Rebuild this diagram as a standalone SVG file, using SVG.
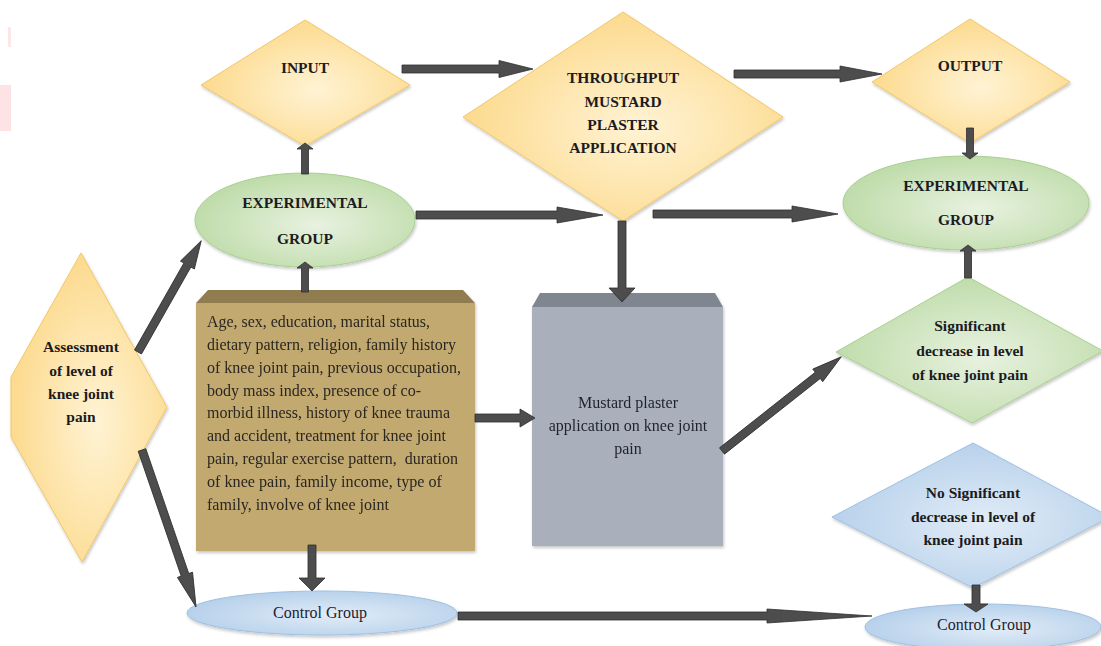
<svg xmlns="http://www.w3.org/2000/svg" width="1101" height="646" viewBox="0 0 1101 646">
<defs>
<radialGradient id="gY" cx="0.55" cy="0.55" r="0.6"><stop offset="0" stop-color="#fff3d4"/><stop offset="1" stop-color="#fcd888"/></radialGradient>
<radialGradient id="gG" cx="0.55" cy="0.55" r="0.6"><stop offset="0" stop-color="#e8f2e0"/><stop offset="1" stop-color="#bcdaa6"/></radialGradient>
<radialGradient id="gB" cx="0.55" cy="0.55" r="0.6"><stop offset="0" stop-color="#e1ecf7"/><stop offset="1" stop-color="#b4cfea"/></radialGradient>
<filter id="sh" x="-10%" y="-10%" width="120%" height="130%"><feDropShadow dx="1" dy="2" stdDeviation="1.5" flood-color="#000" flood-opacity="0.22"/></filter>
</defs>
<style>
.yd{fill:url(#gY);stroke:#f2c766;stroke-width:1;filter:url(#sh)}
.gn{fill:url(#gG);stroke:#a8cf90;stroke-width:1;filter:url(#sh)}
.bl{fill:url(#gB);stroke:#9dc0e3;stroke-width:1;filter:url(#sh)}
.lb{font-family:"Liberation Serif",serif;font-weight:bold;font-size:15.5px;fill:#1b1b22;text-anchor:middle}
.tx{font-family:"Liberation Serif",serif;font-size:16px;fill:#2a2622}
.tc{font-family:"Liberation Serif",serif;font-size:16px;fill:#1f2230;text-anchor:middle}
.ar path{fill:#4d4d4d;stroke:#2e2e2e;stroke-width:0.8}
</style>
<rect width="1101" height="646" fill="#ffffff"/>
<rect x="8" y="27" width="3" height="20" fill="#fde6e6"/>
<rect x="0" y="85" width="11" height="46" fill="#fde3e3"/>

<g id="input"><polygon class="yd" points="305,20 410,85 305,146 201,85"/><text class="lb" x="305" y="73">INPUT</text></g>
<g id="throughput"><polygon class="yd" points="623,12 783,117 623,221 463,117"/>
<text class="lb" x="623" y="83">THROUGHPUT</text><text class="lb" x="623" y="107">MUSTARD</text><text class="lb" x="623" y="130">PLASTER</text><text class="lb" x="623" y="153">APPLICATION</text></g>
<g id="output"><polygon class="yd" points="970,19 1070,82 970,143 872,82"/><text class="lb" x="970" y="71">OUTPUT</text></g>
<g id="exp-left"><ellipse class="gn" cx="305" cy="220" rx="110" ry="47"/><text class="lb" x="305" y="208">EXPERIMENTAL</text><text class="lb" x="305" y="244">GROUP</text></g>
<g id="exp-right"><ellipse class="gn" cx="966" cy="203" rx="123" ry="47"/><text class="lb" x="966" y="191">EXPERIMENTAL</text><text class="lb" x="966" y="225">GROUP</text></g>
<g id="assessment"><polygon class="yd" points="81,253 167,407 82,562 11,437 11,377"/>
<text class="lb" x="81" y="352">Assessment</text><text class="lb" x="81" y="376">of level of</text><text class="lb" x="81" y="399">knee joint</text><text class="lb" x="81" y="422">pain</text></g>
<g id="variables" filter="url(#sh)"><polygon points="208,290 463,290 475,303 196,303" fill="#8f7c50"/><rect x="196" y="303" width="279" height="248" fill="#c2a96f"/>
<text class="tx" x="207" y="327" textLength="223" lengthAdjust="spacingAndGlyphs">Age, sex, education, marital status,</text>
<text class="tx" x="207" y="350" textLength="249" lengthAdjust="spacingAndGlyphs">dietary pattern, religion, family history</text>
<text class="tx" x="207" y="373" textLength="254" lengthAdjust="spacingAndGlyphs">of knee joint pain, previous occupation,</text>
<text class="tx" x="207" y="396" textLength="214" lengthAdjust="spacingAndGlyphs">body mass index, presence of co-</text>
<text class="tx" x="207" y="418" textLength="243" lengthAdjust="spacingAndGlyphs">morbid illness, history of knee trauma</text>
<text class="tx" x="207" y="441" textLength="239" lengthAdjust="spacingAndGlyphs">and accident, treatment for knee joint</text>
<text class="tx" x="207" y="464" textLength="251" lengthAdjust="spacingAndGlyphs" xml:space="preserve">pain, regular exercise pattern,  duration</text>
<text class="tx" x="207" y="487" textLength="235" lengthAdjust="spacingAndGlyphs">of knee pain, family income, type of</text>
<text class="tx" x="207" y="510" textLength="182" lengthAdjust="spacingAndGlyphs">family, involve of knee joint</text></g>
<g id="mustard" filter="url(#sh)"><polygon points="540,293 715,293 723,307 532,307" fill="#7f868f"/><rect x="532" y="307" width="191" height="239" fill="#a9b0bb"/>
<text class="tc" x="628" y="408">Mustard plaster</text><text class="tc" x="628" y="431">application on knee joint</text><text class="tc" x="628" y="454">pain</text></g>
<g id="significant"><polygon class="gn" points="968,277 1103,351 972,423 836,352"/>
<text class="lb" x="970" y="331">Significant</text><text class="lb" x="970" y="356">decrease in level</text><text class="lb" x="970" y="380">of knee joint pain</text></g>
<g id="no-significant"><polygon class="bl" points="973,443 1110,517 973,588 832,517"/>
<text class="lb" x="973" y="498">No Significant</text><text class="lb" x="973" y="522">decrease in level of</text><text class="lb" x="973" y="545">knee joint pain</text></g>
<g id="control-left"><ellipse class="bl" cx="322" cy="613" rx="135" ry="22"/><text class="tc" x="320" y="618">Control Group</text></g>
<g id="control-right"><ellipse class="bl" cx="983" cy="627" rx="118" ry="23"/><text class="tc" x="984" y="630">Control Group</text></g>

<g id="connectors" class="ar">
<path transform="translate(402,69)" d="M0,-4 H97 V-8.5 L131,0 L97,8.5 V4 H0 Z"/>
<path transform="translate(734,74)" d="M0,-4 H106 V-8 L148,0 L106,8 V4 H0 Z"/>
<path transform="translate(416,215)" d="M0,-4 H141 V-8 L187,0 L141,8 V4 H0 Z"/>
<path transform="translate(653,214)" d="M0,-4 H139 V-8 L185,0 L139,8 V4 H0 Z"/>
<path transform="translate(622,221) rotate(90)" d="M0,-4 H67 V-13 L81,0 L67,13 V4 H0 Z"/>
<path transform="translate(305,174) rotate(-90)" d="M0,-3.5 H25 V-8 L31,0 L25,8 V3.5 H0 Z"/>
<path transform="translate(305,292) rotate(-90)" d="M0,-3.5 H24 V-8 L30,0 L24,8 V3.5 H0 Z"/>
<path transform="translate(970,128) rotate(90)" d="M0,-3.5 H25 V-8 L31,0 L25,8 V3.5 H0 Z"/>
<path transform="translate(968,278) rotate(-90)" d="M0,-3.5 H27 V-8 L33,0 L27,8 V3.5 H0 Z"/>
<path transform="translate(475,418)" d="M0,-4 H45 V-9 L60,0 L45,9 V4 H0 Z"/>
<path transform="translate(312,545) rotate(90)" d="M0,-4 H33 V-13 L46,0 L33,13 V4 H0 Z"/>
<path transform="translate(976,585) rotate(90)" d="M0,-4 H19 V-12 L27,0 L19,12 V4 H0 Z"/>
<path transform="translate(458,616)" d="M0,-4 H309 V-7 L414,0 L309,7 V4 H0 Z"/>
<path transform="translate(138,352) rotate(-60.4)" d="M0,-4 H100 V-8 L128,0 L100,8 V4 H0 Z"/>
<path transform="translate(142,450) rotate(71)" d="M0,-4 H132 V-8 L166,0 L132,8 V4 H0 Z"/>
<path transform="translate(722,451) rotate(-38.3)" d="M0,-4 H122 V-8 L152,0 L122,8 V4 H0 Z"/>
</g>
</svg>
